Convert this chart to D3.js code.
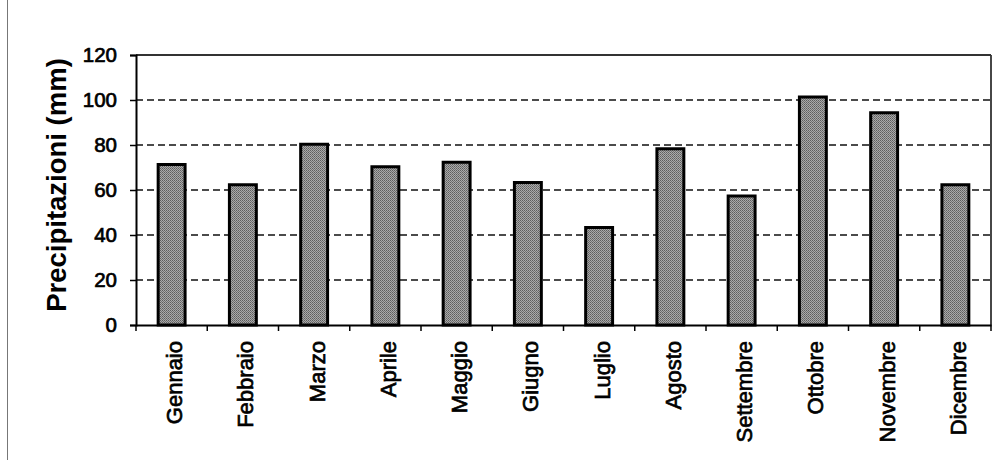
<!DOCTYPE html>
<html>
<head>
<meta charset="utf-8">
<script src="https://cdn.jsdelivr.net/npm/d3@7"></script>
<style>
  html, body { margin: 0; padding: 0; background: #fff; }
  svg { display: block; }
  text { font-family: "Liberation Sans", Arial, sans-serif; fill: #000; }
</style>
</head>
<body>
<svg id="chart" width="1000" height="460"></svg>
<script>
const months = ["Gennaio","Febbraio","Marzo","Aprile","Maggio","Giugno","Luglio","Agosto","Settembre","Ottobre","Novembre","Dicembre"];
const precipitation = [72, 63, 81, 71, 73, 64, 44, 79, 58, 102, 95, 63];
const yTicks = [0, 20, 40, 60, 80, 100, 120];
const yTitle = "Precipitazioni (mm)";

const svg = d3.select("#chart");
const W = 1000, H = 460;
const m = { left: 136, right: 9, top: 55, bottom: 135 };
const x0 = m.left, x1 = W - m.right, y0 = H - m.bottom, y1 = m.top;

// halftone-like pattern for bars
const defs = svg.append("defs");
const pat = defs.append("pattern").attr("id", "dots").attr("patternUnits", "userSpaceOnUse")
  .attr("width", 2).attr("height", 2);
pat.append("rect").attr("width", 2).attr("height", 2).attr("fill", "#aaaaaa");
pat.append("rect").attr("width", 1).attr("height", 1).attr("fill", "#5e5e5e");
pat.append("rect").attr("x", 1).attr("y", 1).attr("width", 1).attr("height", 1).attr("fill", "#727272");

// scan edge line on the left
svg.append("line").attr("x1", 7.5).attr("x2", 7.5).attr("y1", 0).attr("y2", H)
  .attr("stroke", "#777").attr("stroke-width", 1);

const xBand = d3.scaleBand().domain(months).range([x0, x1]).paddingInner(0.58).paddingOuter(0.29);
const xCat = d3.scaleBand().domain(months).range([x0, x1]).padding(0);
const y = d3.scaleLinear().domain([0, 120]).range([y0, y1]);

// gridlines
svg.append("g").selectAll("line").data(yTicks.filter(t => t > 0 && t < 120)).join("line")
  .attr("x1", x0).attr("x2", x1).attr("y1", d => y(d)).attr("y2", d => y(d))
  .attr("stroke", "#111").attr("stroke-width", 1.4).attr("stroke-dasharray", "7,4");

// frame top & right
svg.append("line").attr("x1", x0).attr("x2", x1).attr("y1", y1).attr("y2", y1)
  .attr("stroke", "#333").attr("stroke-width", 1.8);
svg.append("line").attr("x1", x1).attr("x2", x1).attr("y1", y1).attr("y2", y0)
  .attr("stroke", "#333").attr("stroke-width", 1.8);

// bars
svg.append("g").selectAll("rect").data(months).join("rect")
  .attr("x", (d) => xBand(d) + 1.5)
  .attr("width", xBand.bandwidth() - 3)
  .attr("y", (d, i) => y(precipitation[i]) + 1.5)
  .attr("height", (d, i) => y0 - y(precipitation[i]) - 1.5)
  .attr("fill", "url(#dots)")
  .attr("stroke", "#000").attr("stroke-width", 3);

// y axis
const yAxis = d3.axisLeft(y).tickValues(yTicks).tickSize(6).tickPadding(13).tickFormat(d3.format("d"));
const gy = svg.append("g").attr("transform", `translate(${x0},0)`).call(yAxis);
gy.select(".domain").attr("stroke", "#000").attr("stroke-width", 2);
gy.selectAll(".tick line").attr("stroke", "#000").attr("stroke-width", 1.5);
gy.selectAll(".tick text").style("font-family", '"Liberation Sans", Arial, sans-serif')
  .style("font-size", "20.5px").attr("fill", "#000")
  .attr("stroke", "#000").attr("stroke-width", 0.7);

// x axis
const xAxis = d3.axisBottom(xCat).tickSize(0).tickFormat("");
const gx = svg.append("g").attr("transform", `translate(0,${y0})`).call(xAxis);
gx.select(".domain").attr("stroke", "#000").attr("stroke-width", 2);
gx.selectAll(".tick").remove();
// boundary ticks
const bounds = months.map(d => xCat(d)).concat([x1]);
gx.selectAll("line.bt").data(bounds).join("line").attr("class", "bt")
  .attr("x1", d => d).attr("x2", d => d).attr("y1", 0).attr("y2", 6)
  .attr("stroke", "#000").attr("stroke-width", 1.5);

// month labels
svg.append("g").selectAll("text").data(months).join("text")
  .attr("transform", d => `translate(${xCat(d) + xCat.bandwidth() / 2 + 10.5},${y0 + 16}) rotate(-90)`)
  .attr("text-anchor", "end")
  .style("font-size", "22px")
  .attr("stroke", "#000").attr("stroke-width", 0.7)
  .text(d => d);

// y title
svg.append("text")
  .attr("transform", `translate(66,185) rotate(-90)`)
  .attr("text-anchor", "middle")
  .style("font-size", "27.5px").style("font-weight", "bold")
  .text(yTitle);
</script>
</body>
</html>
